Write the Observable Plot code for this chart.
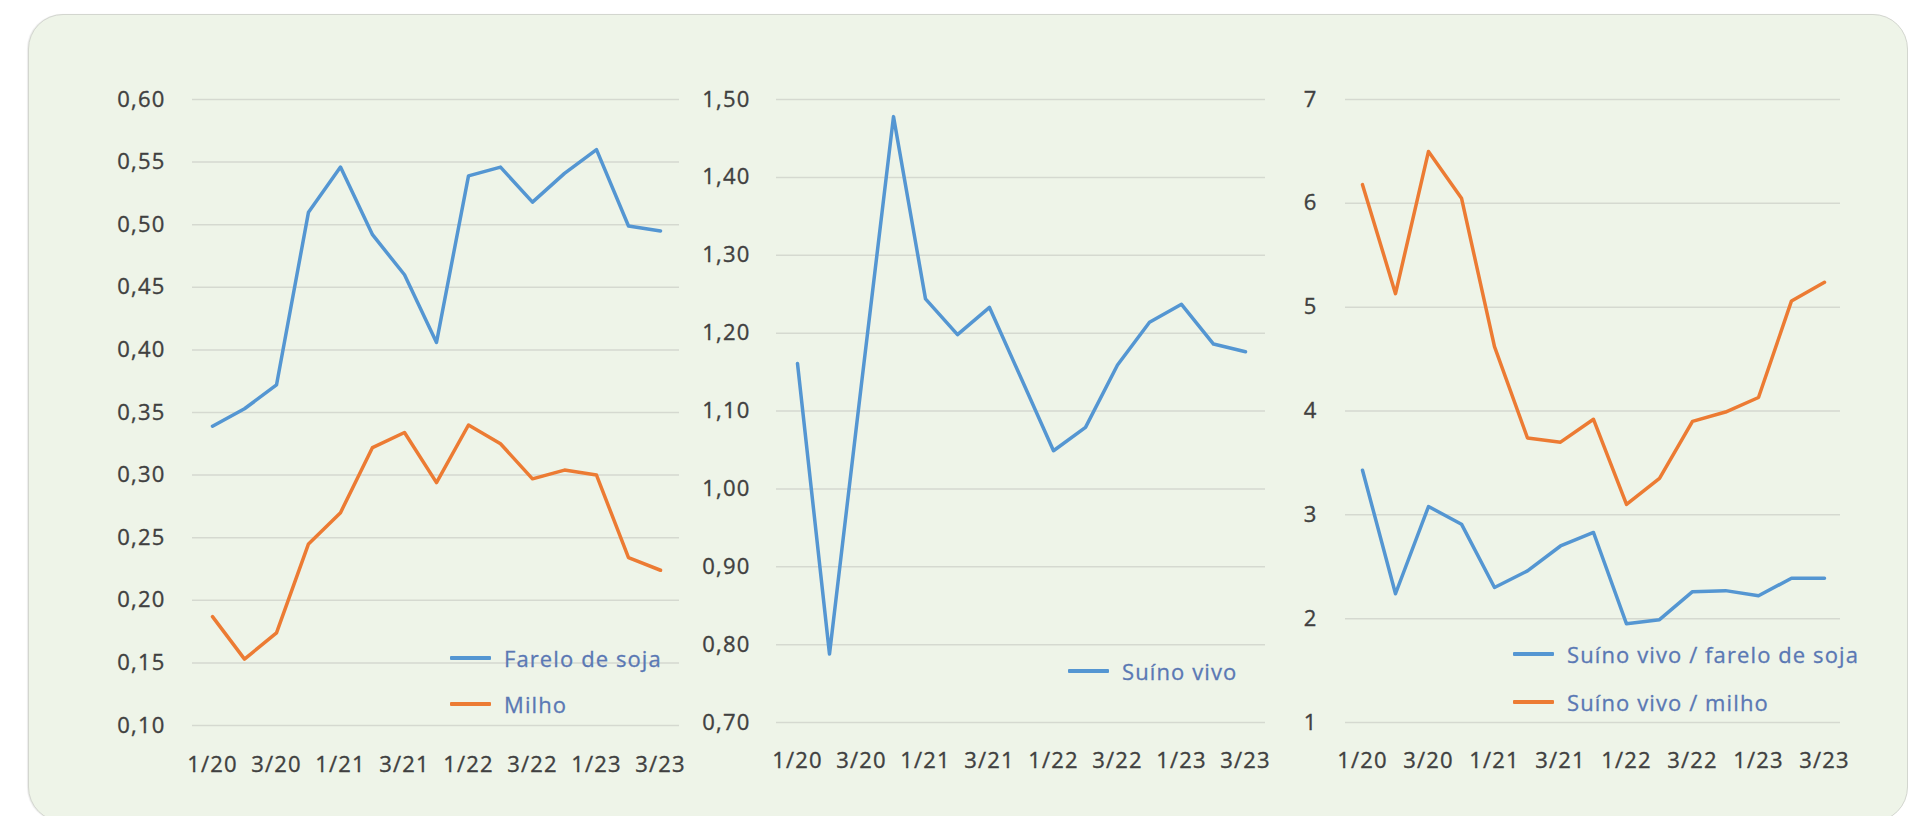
<!DOCTYPE html>
<html>
<head>
<meta charset="utf-8">
<script src="https://cdn.jsdelivr.net/npm/d3@7"></script>
<script src="https://cdn.jsdelivr.net/npm/@observablehq/plot@0.6"></script>
<style>
  html, body { margin: 0; padding: 0; background: #ffffff; }
  #page { position: relative; width: 1912px; height: 816px; overflow: hidden; background: #ffffff; font-family: "Open Sans", sans-serif; }
  #card { position: absolute; left: 28px; top: 14px; width: 1880px; height: 808px; background: #eef4e8;
          border: 1px solid #d3d6cf; border-radius: 35px; box-sizing: border-box; box-shadow: -1px 0 1px rgba(0,0,0,0.08); }
  .chart { position: absolute; top: 0; }
  .chart text { stroke: #404040; stroke-width: 0.35px; }
  .legend-row { position: absolute; display: flex; align-items: center; height: 30px; font-size: 22px;
                color: #5a78b4; letter-spacing: 1.1px; white-space: nowrap; -webkit-text-stroke: 0.3px #5a78b4; }
  .legend-row .swatch { display: inline-block; width: 41px; height: 3.5px; margin-right: 13px; border-radius: 1px; }
</style>
</head>
<body>
<div id="page"><div id="card"></div></div>
<script>
// Quarterly series, 1/2020 to 3/2023
const quarters = ["1/20", "2/20", "3/20", "4/20", "1/21", "2/21", "3/21", "4/21",
                  "1/22", "2/22", "3/22", "4/22", "1/23", "2/23", "3/23"];
const xTickLabels = ["1/20", "3/20", "1/21", "3/21", "1/22", "3/22", "1/23", "3/23"];

// Prices
const fareloDeSoja = [0.339, 0.353, 0.372, 0.510, 0.546, 0.492, 0.460, 0.406, 0.539, 0.546, 0.518, 0.541, 0.560, 0.499, 0.495];
const milho        = [0.187, 0.153, 0.174, 0.245, 0.270, 0.322, 0.334, 0.294, 0.340, 0.325, 0.297, 0.304, 0.300, 0.234, 0.224];
const suinoVivo    = [1.161, 0.788, 1.135, 1.478, 1.244, 1.198, 1.233, 1.141, 1.049, 1.079, 1.159, 1.214, 1.237, 1.186, 1.176];

// Exchange ratios
const suinoFarelo  = [3.43, 2.24, 3.08, 2.91, 2.30, 2.46, 2.70, 2.83, 1.95, 1.99, 2.26, 2.27, 2.22, 2.39, 2.39];
const suinoMilho   = [6.18, 5.13, 6.50, 6.05, 4.62, 3.74, 3.70, 3.92, 3.10, 3.35, 3.90, 3.99, 4.13, 5.06, 5.24];

// Y tick values per panel
const yTicksPrices = [0.10, 0.15, 0.20, 0.25, 0.30, 0.35, 0.40, 0.45, 0.50, 0.55, 0.60];
const yTicksSuino  = [0.70, 0.80, 0.90, 1.00, 1.10, 1.20, 1.30, 1.40, 1.50];
const yTicksRatio  = [1, 2, 3, 4, 5, 6, 7];

const BLUE = "#5496d2";
const ORANGE = "#ec7b33";

const commaFormat = d => d.toFixed(2).replace(".", ",");

function toRows(values) {
  return values.map((v, i) => ({quarter: quarters[i], value: v}));
}

function panel(cfg) {
  const chart = Plot.plot({
    width: cfg.width,
    height: 816,
    marginTop: 99,
    marginBottom: cfg.marginBottom,
    marginLeft: cfg.marginLeft,
    marginRight: cfg.marginRight,
    style: {background: "transparent", fontFamily: "Open Sans", fontSize: "22px", color: "#404040",
            letterSpacing: "1.2px", overflow: "visible"},
    x: {type: "point", domain: quarters, padding: 0.5},
    y: {domain: [cfg.yTicks[0], cfg.yTicks[cfg.yTicks.length - 1]]},
    marks: [
      Plot.gridY(cfg.yTicks, {stroke: "#d5d9d0", strokeOpacity: 1, strokeWidth: 1.5}),
      Plot.axisY(cfg.yTicks, {tickSize: 0, tickPadding: cfg.yPad, tickFormat: cfg.yFormat, label: null}),
      Plot.axisX(xTickLabels, {tickSize: 0, tickPadding: cfg.xPad, label: null}),
      ...cfg.series.map(s => Plot.line(toRows(s.values), {
        x: "quarter", y: "value", stroke: s.color, strokeWidth: 3.5,
        strokeLinejoin: "round", strokeLinecap: "round"
      }))
    ]
  });
  chart.classList.add("chart");
  chart.style.left = cfg.left + "px";
  document.getElementById("page").appendChild(chart);
}

function legend(x, y, items) {
  items.forEach((it, i) => {
    const row = document.createElement("div");
    row.className = "legend-row";
    row.style.left = x + "px";
    row.style.top = (y + i * it.gap - 15) + "px";
    const sw = document.createElement("span");
    sw.className = "swatch";
    sw.style.background = it.color;
    row.appendChild(sw);
    row.appendChild(document.createTextNode(it.label));
    document.getElementById("page").appendChild(row);
  });
}

panel({
  left: 0, width: 700, marginLeft: 192, marginRight: 21, marginBottom: 91,
  yTicks: yTicksPrices, yFormat: commaFormat, yPad: 27, xPad: 31,
  series: [{values: fareloDeSoja, color: BLUE}, {values: milho, color: ORANGE}]
});

panel({
  left: 680, width: 600, marginLeft: 96, marginRight: 15, marginBottom: 94,
  yTicks: yTicksSuino, yFormat: commaFormat, yPad: 26, xPad: 30,
  series: [{values: suinoVivo, color: BLUE}]
});

panel({
  left: 1280, width: 632, marginLeft: 65, marginRight: 72, marginBottom: 94,
  yTicks: yTicksRatio, yFormat: d => String(d), yPad: 28, xPad: 30,
  series: [{values: suinoFarelo, color: BLUE}, {values: suinoMilho, color: ORANGE}]
});

legend(450, 658, [
  {label: "Farelo de soja", color: BLUE, gap: 46},
  {label: "Milho", color: ORANGE, gap: 46}
]);
legend(1068, 671, [
  {label: "Suíno vivo", color: BLUE, gap: 0}
]);
legend(1513, 654, [
  {label: "Suíno vivo / farelo de soja", color: BLUE, gap: 48},
  {label: "Suíno vivo / milho", color: ORANGE, gap: 48}
]);
</script>
</body>
</html>
